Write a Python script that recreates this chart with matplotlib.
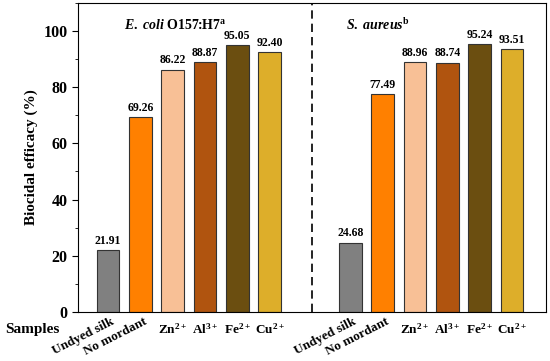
import numpy as np
import matplotlib
matplotlib.use("Agg")
import matplotlib.pyplot as plt
import matplotlib.transforms as mtrans
from matplotlib.ticker import MultipleLocator

plt.rcParams['font.family'] = 'Liberation Serif'
plt.rcParams['font.weight'] = 'bold'
plt.rcParams['mathtext.fontset'] = 'custom'
plt.rcParams['mathtext.rm'] = 'Liberation Serif:bold'
plt.rcParams['mathtext.it'] = 'Liberation Serif:italic:bold'
plt.rcParams['mathtext.bf'] = 'Liberation Serif:bold'

labels = ['Undyed silk', 'No mordant', 'Zn$^{2+}$', 'Al$^{3+}$', 'Fe$^{2+}$', 'Cu$^{2+}$']
ecoli = [21.91, 69.26, 86.22, 88.87, 95.05, 92.40]
saureus = [24.68, 77.49, 88.96, 88.74, 95.24, 93.51]
colors = ['#808080', '#FF8000', '#F8C096', '#B0540F', '#6B4E10', '#DDAE2A']

fig = plt.figure(figsize=(5.5, 3.61), dpi=100)
ax = fig.add_axes([0.142, 0.136, 0.851, 0.856])

x1 = np.arange(1, 7)
x2 = x1 + 7.5
for xs, vals in [(x1, ecoli), (x2, saureus)]:
    bars = ax.bar(xs, vals, width=0.7, color=colors, edgecolor='#333333', linewidth=0.8)
    for b, v in zip(bars, vals):
        ax.text(b.get_x() + b.get_width() / 2, v + 1.2, '%.2f' % v,
                ha='center', va='bottom', fontsize=8.5, fontweight='bold')

ax.axvline(7.3, color='black', linestyle=(0, (5, 3)), linewidth=1.2)

ax.set_xlim(0.07, 14.56)
ax.set_ylim(0, 110)
ax.yaxis.set_major_locator(MultipleLocator(20))
ax.yaxis.set_minor_locator(MultipleLocator(10))
ax.tick_params(axis='y', which='major', length=4, labelsize=11.5)
ax.tick_params(axis='y', which='minor', length=2)
ax.set_ylabel('Biocidal efficacy (%)', fontsize=11, fontweight='bold')

ax.set_xticks(list(x1) + list(x2))
ax.set_xticklabels(labels + labels, fontsize=9.5)
ax.tick_params(axis='x', length=0, pad=7)
shift = mtrans.ScaledTranslation(2 / 72, 4 / 72, fig.dpi_scale_trans)
for i, t in enumerate(ax.get_xticklabels()):
    if i % 6 < 2:
        t.set_rotation(27)
        t.set_ha('right')
        t.set_rotation_mode('anchor')
        t.set_fontsize(9.5)
        t.set_transform(t.get_transform() + shift)

fig.text(5 / 550, 1 - 330 / 361, 'Samples', ha='left', va='center',
         fontsize=11, fontweight='bold')

ax.text(1.5, 102, r'$\mathit{E.\ coli}$ O157:H7$^{\mathrm{a}}$', ha='left', va='center', fontsize=10)
ax.text(8.35, 102, r'$\mathit{S.\ aureus}^{\mathrm{b}}$', ha='left', va='center', fontsize=10)

fig.savefig('out.png', dpi=100)
